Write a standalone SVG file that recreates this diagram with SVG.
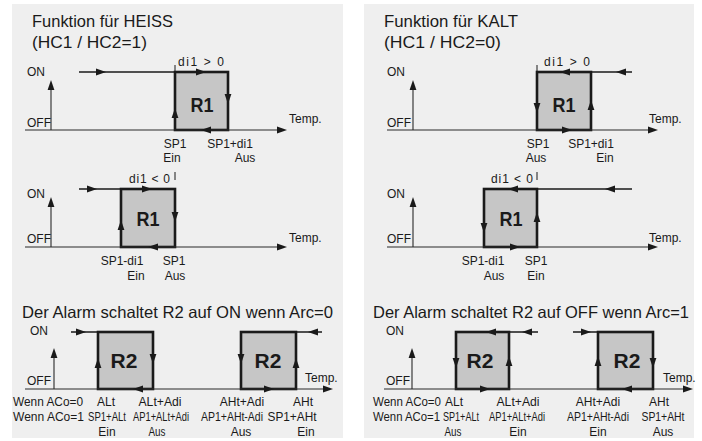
<svg xmlns="http://www.w3.org/2000/svg" width="702" height="441" viewBox="0 0 702 441">
<style>
.panel{fill:#efefef}
.box{fill:#c6c6c6;stroke:#1a1a1a;stroke-width:2.6}
.ax{stroke:#2a2a2a;stroke-width:1.1;fill:none}
.on{stroke:#1a1a1a;stroke-width:1.6;fill:none}
.tick{stroke:#1a1a1a;stroke-width:1;fill:none}
text{font-family:"Liberation Sans",Arial,sans-serif;fill:#1a1a1a}
.t{font-size:16.5px}
.s{font-size:12px}
.m{text-anchor:middle}
.b{font-size:21px;font-weight:bold;text-anchor:middle}
.ah{fill:#1a1a1a}
</style>
<defs>
<path id="a" d="M0,0 L-10,-3.4 L-10,3.4 Z"/>
</defs>
<rect class="panel" x="12" y="4" width="331" height="434"/>
<rect class="panel" x="364" y="4" width="330" height="434"/>

<g id="titles">
<text class="t" x="32" y="27" textLength="141" lengthAdjust="spacingAndGlyphs">Funktion für HEISS</text>
<text class="t" x="32" y="48" textLength="115" lengthAdjust="spacingAndGlyphs">(HC1 / HC2=1)</text>
<text class="t" x="22" y="318" textLength="311" lengthAdjust="spacingAndGlyphs">Der Alarm schaltet R2 auf ON wenn Arc=0</text>
<text class="t" x="384" y="27" textLength="134" lengthAdjust="spacingAndGlyphs">Funktion für KALT</text>
<text class="t" x="384" y="48" textLength="117" lengthAdjust="spacingAndGlyphs">(HC1 / HC2=0)</text>
<text class="t" x="373" y="318" textLength="316" lengthAdjust="spacingAndGlyphs">Der Alarm schaltet R2 auf OFF wenn Arc=1</text>
</g>

<g id="nodes">
<g id="L1-R1"><rect class="box" x="175" y="72" width="53" height="58"/><text class="b" x="202" y="112" textLength="23" lengthAdjust="spacingAndGlyphs">R1</text></g>
<g id="L2-R1"><rect class="box" x="121" y="189" width="54" height="58"/><text class="b" x="148" y="226" textLength="23" lengthAdjust="spacingAndGlyphs">R1</text></g>
<g id="L3-R2a"><rect class="box" x="98" y="332" width="55" height="57"/><text class="b" x="124" y="368">R2</text></g>
<g id="L3-R2b"><rect class="box" x="241" y="332" width="55" height="57"/><text class="b" x="268" y="368">R2</text></g>
<g id="R1-R1"><rect class="box" x="537" y="72" width="54" height="58"/><text class="b" x="564" y="112" textLength="23" lengthAdjust="spacingAndGlyphs">R1</text></g>
<g id="R2-R1"><rect class="box" x="484" y="189" width="53" height="58"/><text class="b" x="511" y="226" textLength="23" lengthAdjust="spacingAndGlyphs">R1</text></g>
<g id="R3-R2a"><rect class="box" x="456" y="332" width="53" height="57"/><text class="b" x="480" y="368">R2</text></g>
<g id="R3-R2b"><rect class="box" x="598" y="332" width="55" height="57"/><text class="b" x="627" y="368">R2</text></g>
</g>

<g id="connectors">
<path class="ax" d="M51,84 V130 M25,130 H280"/>
<path class="ax" d="M51,201 V247 M25,247 H280"/>
<path class="ax" d="M54,352 V389 M25,389 H326"/>
<path class="ax" d="M413,84 V130 M387,130 H651"/>
<path class="ax" d="M413,201 V247 M387,247 H651"/>
<path class="ax" d="M412,352 V389 M384,389 H686"/>
<g class="ah">
<use href="#a" transform="translate(51,80) rotate(-90)"/>
<use href="#a" transform="translate(287,130)"/>
<use href="#a" transform="translate(51,197) rotate(-90)"/>
<use href="#a" transform="translate(287,247)"/>
<use href="#a" transform="translate(54,348) rotate(-90)"/>
<use href="#a" transform="translate(333,389)"/>
<use href="#a" transform="translate(413,80) rotate(-90)"/>
<use href="#a" transform="translate(658,130)"/>
<use href="#a" transform="translate(413,197) rotate(-90)"/>
<use href="#a" transform="translate(658,247)"/>
<use href="#a" transform="translate(412,348) rotate(-90)"/>
<use href="#a" transform="translate(693,389)"/>
</g>
<path class="on" d="M79,72 H175"/>
<path class="tick" d="M175,65 V72"/>
<path class="on" d="M79,189 H121"/>
<path class="tick" d="M175,172 V180"/>
<path class="on" d="M71,332 H98 M296,332 H322"/>
<path class="on" d="M591,72 H632"/>
<path class="tick" d="M537,65 V72"/>
<path class="on" d="M537,189 H632"/>
<path class="tick" d="M537,172 V180"/>
<path class="on" d="M509,332 H538 M573,332 H598"/>
<g class="ah">
<use href="#a" transform="translate(106,72)"/>
<use href="#a" transform="translate(206,72)"/>
<use href="#a" transform="translate(228,104) rotate(90)"/>
<use href="#a" transform="translate(201,130) rotate(180)"/>
<use href="#a" transform="translate(175,108) rotate(-90)"/>
<use href="#a" transform="translate(97,189)"/>
<use href="#a" transform="translate(152,189)"/>
<use href="#a" transform="translate(175,222) rotate(90)"/>
<use href="#a" transform="translate(148,247) rotate(180)"/>
<use href="#a" transform="translate(121,220) rotate(-90)"/>
<use href="#a" transform="translate(86,332)"/>
<use href="#a" transform="translate(153,364) rotate(90)"/>
<use href="#a" transform="translate(133,389) rotate(180)"/>
<use href="#a" transform="translate(98,358) rotate(-90)"/>
<use href="#a" transform="translate(308,332) rotate(180)"/>
<use href="#a" transform="translate(241,364) rotate(90)"/>
<use href="#a" transform="translate(274,389)"/>
<use href="#a" transform="translate(296,358) rotate(-90)"/>
<use href="#a" transform="translate(616,72) rotate(180)"/>
<use href="#a" transform="translate(560,72) rotate(180)"/>
<use href="#a" transform="translate(537,113) rotate(90)"/>
<use href="#a" transform="translate(572,130)"/>
<use href="#a" transform="translate(591,100) rotate(-90)"/>
<use href="#a" transform="translate(605,189) rotate(180)"/>
<use href="#a" transform="translate(508,189) rotate(180)"/>
<use href="#a" transform="translate(484,233) rotate(90)"/>
<use href="#a" transform="translate(520,247)"/>
<use href="#a" transform="translate(537,212) rotate(-90)"/>
<use href="#a" transform="translate(522,332) rotate(180)"/>
<use href="#a" transform="translate(486,332) rotate(180)"/>
<use href="#a" transform="translate(456,368) rotate(90)"/>
<use href="#a" transform="translate(490,389)"/>
<use href="#a" transform="translate(509,356) rotate(-90)"/>
<use href="#a" transform="translate(591,332)"/>
<use href="#a" transform="translate(598,356) rotate(-90)"/>
<use href="#a" transform="translate(653,368) rotate(90)"/>
<use href="#a" transform="translate(622,389) rotate(180)"/>
</g>
</g>

<g id="labels">
<text class="s" x="27" y="76">ON</text>
<text class="s" x="27" y="127">OFF</text>
<text class="s" x="289" y="123">Temp.</text>
<text class="s" x="178" y="66" textLength="46" lengthAdjust="spacing">di1 &gt; 0</text>
<text class="s m" x="175" y="147.5">SP1</text>
<text class="s m" x="230" y="147.5">SP1+di1</text>
<text class="s m" x="172" y="162">Ein</text>
<text class="s m" x="245" y="162">Aus</text>
<text class="s" x="27" y="198">ON</text>
<text class="s" x="27" y="243">OFF</text>
<text class="s" x="289" y="242">Temp.</text>
<text class="s" x="129" y="183" textLength="41" lengthAdjust="spacing">di1 &lt; 0</text>
<text class="s m" x="122" y="265">SP1-di1</text>
<text class="s m" x="174" y="265">SP1</text>
<text class="s m" x="136" y="280">Ein</text>
<text class="s m" x="175" y="280">Aus</text>
<text class="s" x="30" y="335">ON</text>
<text class="s" x="27" y="385">OFF</text>
<text class="s" x="305" y="382">Temp.</text>
<text class="s" x="13" y="406" textLength="70" lengthAdjust="spacingAndGlyphs">Wenn ACo=0</text>
<text class="s" x="13" y="421" textLength="71" lengthAdjust="spacingAndGlyphs">Wenn ACo=1</text>
<text class="s m" x="106" y="406">ALt</text>
<text class="s m" x="160" y="406" textLength="43" lengthAdjust="spacingAndGlyphs">ALt+Adi</text>
<text class="s m" x="242" y="406">AHt+Adi</text>
<text class="s m" x="303" y="406">AHt</text>
<text class="s m" x="107" y="421" textLength="38" lengthAdjust="spacingAndGlyphs">SP1+ALt</text>
<text class="s m" x="161" y="421" textLength="56" lengthAdjust="spacingAndGlyphs">AP1+ALt+Adi</text>
<text class="s m" x="232" y="421" textLength="62" lengthAdjust="spacingAndGlyphs">AP1+AHt-Adi</text>
<text class="s m" x="292" y="421" textLength="49" lengthAdjust="spacingAndGlyphs">SP1+AHt</text>
<text class="s m" x="107" y="435.5">Ein</text>
<text class="s m" x="157" y="435.5" textLength="17" lengthAdjust="spacingAndGlyphs">Aus</text>
<text class="s m" x="241" y="435.5">Aus</text>
<text class="s m" x="306" y="435.5">Ein</text>
<text class="s" x="387" y="76">ON</text>
<text class="s" x="387" y="127">OFF</text>
<text class="s" x="649" y="123">Temp.</text>
<text class="s" x="544" y="66" textLength="46" lengthAdjust="spacing">di1 &gt; 0</text>
<text class="s m" x="538" y="147.5">SP1</text>
<text class="s m" x="591" y="147.5">SP1+di1</text>
<text class="s m" x="536" y="162">Aus</text>
<text class="s m" x="605" y="162">Ein</text>
<text class="s" x="387" y="198">ON</text>
<text class="s" x="387" y="243">OFF</text>
<text class="s" x="649" y="242">Temp.</text>
<text class="s" x="491" y="183" textLength="42" lengthAdjust="spacing">di1 &lt; 0</text>
<text class="s m" x="483" y="265">SP1-di1</text>
<text class="s m" x="536" y="265">SP1</text>
<text class="s m" x="494" y="280">Aus</text>
<text class="s m" x="536" y="280">Ein</text>
<text class="s" x="386" y="335">ON</text>
<text class="s" x="386" y="385">OFF</text>
<text class="s" x="663" y="382">Temp.</text>
<text class="s" x="373" y="406" textLength="68" lengthAdjust="spacingAndGlyphs">Wenn ACo=0</text>
<text class="s" x="373" y="421" textLength="67" lengthAdjust="spacingAndGlyphs">Wenn ACo=1</text>
<text class="s m" x="454" y="406">ALt</text>
<text class="s m" x="518" y="406" textLength="43" lengthAdjust="spacingAndGlyphs">ALt+Adi</text>
<text class="s m" x="598" y="406">AHt+Adi</text>
<text class="s m" x="659" y="406">AHt</text>
<text class="s m" x="461" y="421" textLength="36" lengthAdjust="spacingAndGlyphs">SP1+ALt</text>
<text class="s m" x="517" y="421" textLength="56" lengthAdjust="spacingAndGlyphs">AP1+ALt+Adi</text>
<text class="s m" x="598" y="421" textLength="62" lengthAdjust="spacingAndGlyphs">AP1+AHt-Adi</text>
<text class="s m" x="663" y="421" textLength="43" lengthAdjust="spacingAndGlyphs">SP1+AHt</text>
<text class="s m" x="453" y="435.5" textLength="17" lengthAdjust="spacingAndGlyphs">Aus</text>
<text class="s m" x="518" y="435.5">Ein</text>
<text class="s m" x="598" y="435.5">Ein</text>
<text class="s m" x="663" y="435.5">Aus</text>
</g>
</svg>
